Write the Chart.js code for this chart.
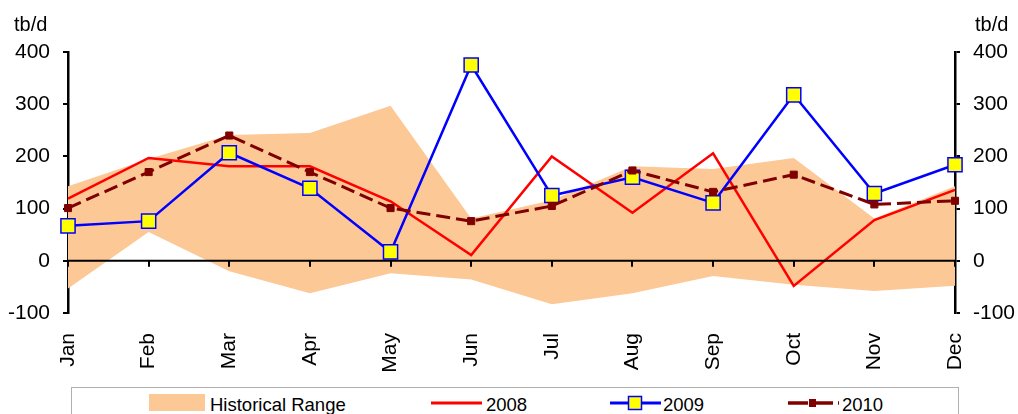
<!DOCTYPE html>
<html>
<head>
<meta charset="utf-8">
<script src="https://cdn.jsdelivr.net/npm/chart.js@4"></script>
<style>
  html, body { margin: 0; padding: 0; background: #fff; }
  #wrap { position: relative; width: 1018px; height: 414px; overflow: hidden; font-family: "Liberation Sans", Arial, sans-serif; color: #000; }
  canvas { position: absolute; left: 0; top: 0; }
  .unit { position: absolute; top: 14px; font-size: 20px; line-height: 20px; }
  #legend { position: absolute; left: 71px; top: 387px; width: 886px; height: 40px; border: 1.5px solid #b0b0b0; background: #fff; }
  .lg { position: absolute; font-size: 18.5px; line-height: 18px; top: 8px; white-space: nowrap; }
  .sym { position: absolute; top: 0; }
</style>
</head>
<body>
<div id="wrap">
  <canvas id="c" width="1018" height="414"></canvas>
  <div class="unit" style="left:14px;">tb/d</div>
  <div class="unit" style="left:975px;">tb/d</div>
  <div id="legend">
    <div class="sym" style="left:77px; top:6px; width:56px; height:17px; background:#FCC896;"></div>
    <div class="lg" style="left:138px;">Historical Range</div>
    <svg class="sym" style="left:358px;" width="54" height="32"><line x1="1" y1="15" x2="52" y2="15" stroke="#FF0000" stroke-width="3"/></svg>
    <div class="lg" style="left:414px;">2008</div>
    <svg class="sym" style="left:537px;" width="54" height="32"><line x1="1" y1="15" x2="52" y2="15" stroke="#0000FF" stroke-width="3"/><rect x="19.5" y="8.5" width="13" height="13" fill="#FFFF00" stroke="#0000FF" stroke-width="1.5"/></svg>
    <div class="lg" style="left:591px;">2009</div>
    <svg class="sym" style="left:715px;" width="54" height="32"><line x1="1" y1="15" x2="52" y2="15" stroke="#800000" stroke-width="3.5" stroke-dasharray="20 5"/><rect x="22" y="11" width="7" height="8" fill="#800000"/></svg>
    <div class="lg" style="left:770px;">2010</div>
  </div>
</div>
<script>
const months = ["Jan","Feb","Mar","Apr","May","Jun","Jul","Aug","Sep","Oct","Nov","Dec"];
const rangeLow  = [-53, 55, -20, -62, -24, -36, -83, -62, -29, -46, -58, -48];
const rangeHigh = [143, 195, 241, 245, 297, 81, 116, 181, 176, 197, 81, 143];
const y2008 = [119, 197, 181, 181, 114, 11, 200, 92, 206, -48, 78, 136];
const y2009 = [67, 76, 207, 139, 17, 375, 125, 160, 111, 318, 129, 184];
const y2010 = [101, 170, 240, 170, 101, 76, 105, 173, 132, 165, 108, 115];
const yTicks = [-100, 0, 100, 200, 300, 400];

const FONT = '"Liberation Sans", Arial, sans-serif';

const zeroLine = {
  id: 'zeroLine',
  afterDatasetsDraw(chart) {
    const {ctx, chartArea, scales} = chart;
    const y0 = scales.y.getPixelForValue(0);
    ctx.save();
    ctx.strokeStyle = '#000';
    ctx.lineWidth = 2;
    ctx.beginPath();
    ctx.moveTo(chartArea.left, y0);
    ctx.lineTo(chartArea.right, y0);
    for (let i = 0; i < months.length; i++) {
      const x = Math.round(scales.x.getPixelForValue(i));
      ctx.moveTo(x, y0);
      ctx.lineTo(x, y0 + 6);
    }
    ctx.stroke();
    ctx.restore();
  }
};

const yCommon = (pos, w) => ({
  position: pos,
  min: -100, max: 400,
  afterBuildTicks: s => { s.ticks = yTicks.map(v => ({value: v})); },
  afterFit: s => { s.width = w; },
  border: { display: true, color: '#000', width: 2.5 },
  grid: { drawOnChartArea: false, drawTicks: true, tickLength: 5, color: '#000', lineWidth: 2 },
  ticks: { color: '#000', font: { family: FONT, size: 21 }, padding: 13 }
});

new Chart(document.getElementById('c'), {
  type: 'line',
  data: {
    labels: months,
    datasets: [
      { label: 'Historical Range low', data: rangeLow, borderWidth: 0, pointRadius: 0, fill: false, order: 5, yAxisID: 'y' },
      { label: 'Historical Range', data: rangeHigh, borderWidth: 0, pointRadius: 0, fill: 0, backgroundColor: '#FCC896', borderColor: 'rgba(0,0,0,0)', order: 4, yAxisID: 'y' },
      { label: '2008', data: y2008, borderColor: '#FF0000', borderWidth: 2.5, pointRadius: 0, fill: false, tension: 0, order: 3, yAxisID: 'y' },
      { label: '2009', data: y2009, borderColor: '#0000FF', borderWidth: 2.5, pointStyle: 'rect', pointRadius: 10, pointBackgroundColor: '#FFFF00', pointBorderColor: '#0000FF', pointBorderWidth: 1.5, fill: false, tension: 0, order: 2, yAxisID: 'y' },
      { label: '2010', data: y2010, borderColor: '#800000', borderWidth: 3, borderDash: [14, 6], pointStyle: 'rect', pointRadius: 5, pointBackgroundColor: '#800000', pointBorderColor: '#800000', pointBorderWidth: 1, fill: false, tension: 0, order: 1, yAxisID: 'y' }
    ]
  },
  options: {
    responsive: false,
    animation: false,
    events: [],
    layout: { padding: { top: 52, bottom: 0, left: 0, right: 0 } },
    plugins: { legend: { display: false }, tooltip: { enabled: false }, title: { display: false } },
    scales: {
      x: {
        offset: false,
        afterFit: s => { s.height = 101; },
        border: { display: false },
        grid: { display: false, drawTicks: false },
        ticks: { color: '#000', font: { family: FONT, size: 21 }, minRotation: 90, maxRotation: 90, autoSkip: false, padding: 20 }
      },
      y: yCommon('left', 68),
      y2: yCommon('right', 63)
    }
  },
  plugins: [zeroLine]
});
</script>
</body>
</html>
